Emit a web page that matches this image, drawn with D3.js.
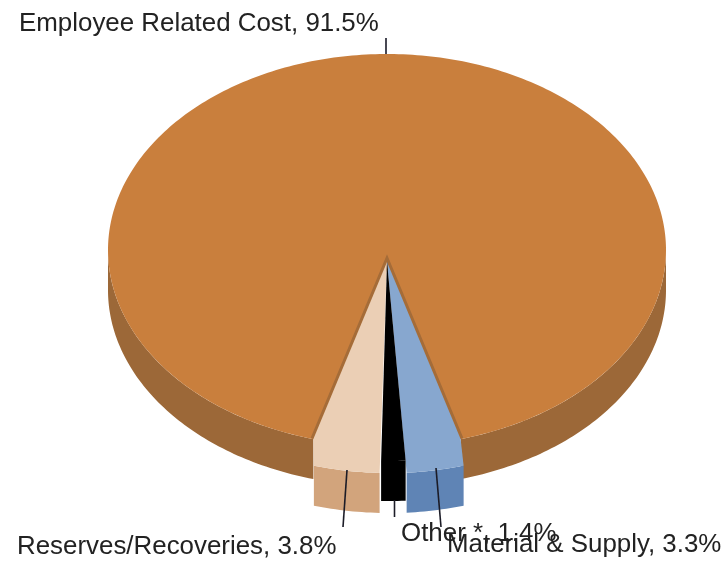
<!DOCTYPE html>
<html><head><meta charset="utf-8">
<script src="https://cdn.jsdelivr.net/npm/d3@7"></script>
<style>html,body{margin:0;background:#fff}svg{display:block}</style>
</head><body><svg id="c" width="728" height="563"></svg>
<script>
const categories = ["Employee Related Cost", "Material & Supply", "Other *", "Reserves/Recoveries"];
const values = [91.5, 3.3, 1.4, 3.8];
const topColors = ["#C97F3E", "#87A7CF", "#000000", "#EBCFB5"];
const sideColors = ["#9C6837", "#5F84B5", "#000000", "#D2A47C"];

const W = 728, H = 563;
const svg = d3.select("#c").attr("viewBox", [0, 0, W, H]);
const defs = svg.append("defs");
defs.append("filter").attr("id", "soft").append("feGaussianBlur").attr("stdDeviation", 0.6);
const g = svg.append("g").attr("filter", "url(#soft)");

const cx = 387, rx = 279, apexY = 262, depth = 40;
const x = d3.scaleLinear().domain([-1, 1]).range([cx - rx, cx + rx]);
const xShift = [0, 3, 2, 0.5];
// vertical extent of each slice's projected circle (cos = 1 is the back, at the top)
const yMain = d3.scaleLinear().domain([1, -1]).range([54, 446]);
const ySmall = d3.scaleLinear().domain([1, -1]).range([57, 473]);
const yBlack = d3.scaleLinear().domain([1, -1]).range([65, 461]);
const yFor = i => i === 0 ? yMain : i === 2 ? yBlack : ySmall;

const arcs = d3.pie().sort(null).startAngle(-0.915 * Math.PI).endAngle(1.085 * Math.PI)(values);
const line = d3.line().x(d => d[0]).y(d => d[1]);
const rim = (i, a, b, dy = 0) => {
  const n = Math.max(2, Math.ceil(Math.abs(b - a) * 60));
  return d3.range(n + 1).map(k => {
    const t = a + (b - a) * k / n;
    return [x(Math.sin(t)) + xShift[i], yFor(i)(Math.cos(t)) + dy];
  });
};
const side = (i, a, b, fill) => g.append("path")
  .attr("d", line(rim(i, a, b).concat(rim(i, b, a, depth))) + "Z").attr("fill", fill);

// main slice: walls then top face
const m = arcs[0];
side(0, m.startAngle, -Math.PI / 2, sideColors[0]);
side(0, Math.PI / 2, m.endAngle, sideColors[0]);
g.append("path")
  .attr("d", line(rim(0, m.startAngle, m.endAngle).concat([[cx, apexY]])) + "Z")
  .attr("fill", topColors[0]);

// inner cut walls of the main slice
const apex = [cx, apexY];
const cornerR = rim(0, m.endAngle, m.endAngle + .001)[0];     // right of the gap (Material side)
const cornerL = rim(0, m.startAngle, m.startAngle + .001)[0]; // left of the gap (Reserves side)
g.append("path")
  .attr("d", line([cornerL, apex, cornerR]))
  .attr("fill", "none").attr("stroke", "#A56C38").attr("stroke-width", 6);

// small slices, exploded toward the viewer; their top faces reach up to the main slice's cut
[3, 1, 2].forEach(i => {
  const a = arcs[i];
  side(i, a.startAngle, a.endAngle, sideColors[i]);
  const outer = rim(i, a.startAngle, a.endAngle);
  const pts = i === 1 ? [cornerR, ...outer, apex]
            : i === 3 ? [...outer, cornerL, apex]
            : [...outer, apex];
  g.append("path").attr("d", line(pts) + "Z").attr("fill", topColors[i]);
});

// leader lines
const leaders = [
  [[386, 38], [386, 54]],
  [[347, 470], [343, 527]],
  [[394.5, 500], [394.5, 517]],
  [[436, 468], [441, 527]]
];
leaders.forEach(l => g.append("path").attr("d", line(l)).attr("stroke", "#1c1c28").attr("stroke-width", 1.6).attr("fill", "none"));

// labels
const pct = d3.format(".1f");
const labelPos = [[19, 31], [447, 552], [401, 541], [17, 554]];
[2, 1, 3, 0].forEach(i => g.append("text")
  .attr("x", labelPos[i][0]).attr("y", labelPos[i][1])
  .attr("font-family", "Liberation Sans, Arial, sans-serif").attr("font-size", 25.9)
  .attr("fill", "#222").text(`${categories[i]}, ${pct(values[i])}%`));
</script></body></html>
